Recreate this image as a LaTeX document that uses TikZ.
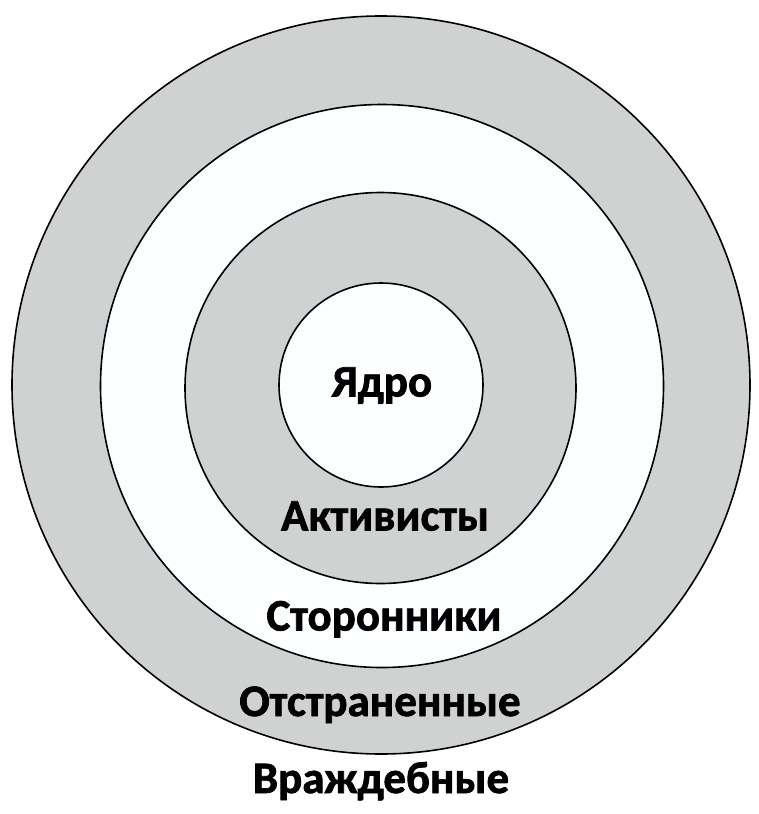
\documentclass[tikz,border=0pt]{standalone}
\usepackage{fontspec}
\setmainfont{Carlito}
\newfontfamily\heavyfont{Carlito Bold}[FakeBold=1.6]
\definecolor{ringgray}{RGB}{208,209,209}
\definecolor{ringwhite}{RGB}{253,254,255}
\tikzset{
  ring/.style={draw=black, line width=1.6pt},
  lbl/.style={anchor=base, inner sep=0pt, font=\fontsize{45}{50}\selectfont\heavyfont, text=black}
}
\begin{document}
\begin{tikzpicture}[x=1pt,y=-1pt]
\useasboundingbox[fill=white] (0,0) rectangle (758,814);
\fill[ringgray,ring] (381,385) circle[radius=369];
\fill[ringwhite,ring] (382,386) circle[radius=281.5];
\fill[ringgray,ring] (380.5,388) circle[radius=195.5];
\fill[ringwhite,ring] (381,385) circle[radius=102];
\node[lbl] (core) at (382,396.5) {Ядро};
\node[lbl] (act) at (385,530.5) {Активисты};
\node[lbl] (sup) at (384,630.5) {Сторонники};
\node[lbl] (dist) at (380,716) {Отстраненные};
\node[lbl] (host) at (381,793) {Враждебные};
\end{tikzpicture}
\end{document}
